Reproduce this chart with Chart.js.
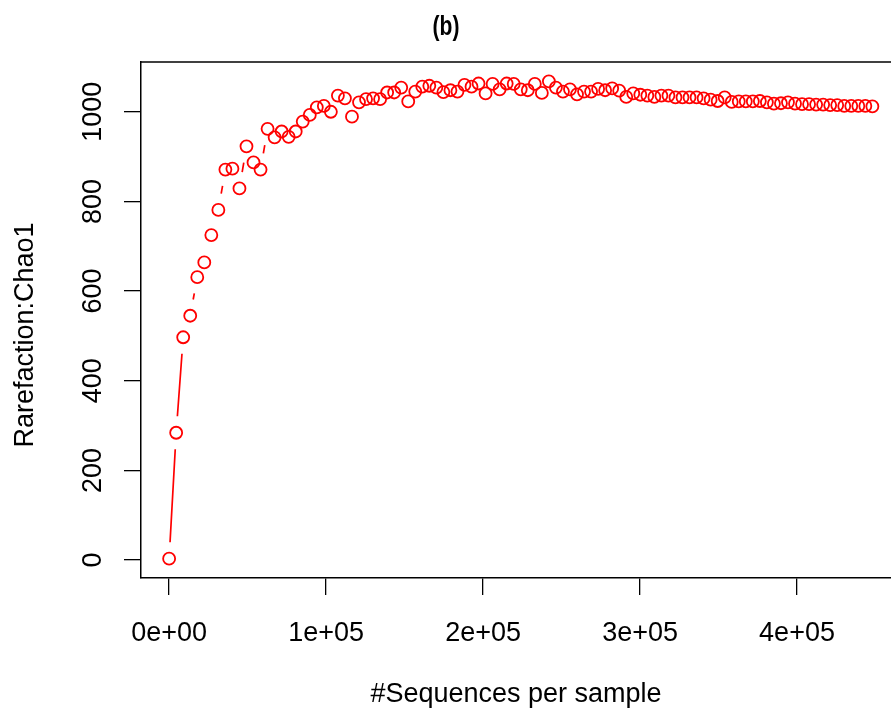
<!DOCTYPE html>
<html>
<head>
<meta charset="utf-8">
<script src="https://cdn.jsdelivr.net/npm/chart.js@4.4.1/dist/chart.umd.min.js"></script>
<style>
  html, body { margin: 0; padding: 0; background: #fff; overflow: hidden; }
</style>
</head>
<body>
<canvas id="rarefactionChart" width="891" height="717"></canvas>
<script>
// sequences per sample at each rarefaction step
const depths = [
  0, 4480, 8960, 13440, 17920, 22400, 26880, 31360, 35840, 40320,
  44800, 49280, 53760, 58240, 62720, 67200, 71680, 76160, 80640, 85120,
  89600, 94080, 98560, 103040, 107520, 112000, 116480, 120960, 125440, 129920,
  134400, 138880, 143360, 147840, 152320, 156800, 161280, 165760, 170240, 174720,
  179200, 183680, 188160, 192640, 197120, 201600, 206080, 210560, 215040, 219520,
  224000, 228480, 232960, 237440, 241920, 246400, 250880, 255360, 259840, 264320,
  268800, 273280, 277760, 282240, 286720, 291200, 295680, 300160, 304640, 309120,
  313600, 318080, 322560, 327040, 331520, 336000, 340480, 344960, 349440, 353920,
  358400, 362880, 367360, 371840, 376320, 380800, 385280, 389760, 394240, 398720,
  403200, 407680, 412160, 416640, 421120, 425600, 430080, 434560, 439040, 443520,
  448000
];

// Chao1 estimate at each step
const chao1 = [
  3, 284, 497, 545, 631, 664, 725, 781, 871, 873,
  829, 923, 887, 871, 962, 943, 956, 944, 956, 978,
  993, 1010, 1013, 1000, 1036, 1030, 989, 1021, 1028, 1030,
  1028, 1043, 1043, 1054, 1023, 1045, 1056, 1058, 1054, 1044,
  1048, 1045, 1060, 1056, 1063, 1041, 1062, 1050, 1063, 1062,
  1050, 1048, 1062, 1042, 1068, 1054, 1045, 1050, 1039, 1045,
  1045, 1051, 1048, 1052, 1047, 1033, 1041, 1038, 1036, 1033,
  1036, 1036, 1032, 1032, 1032, 1032, 1030, 1027, 1024, 1032,
  1022, 1023, 1023, 1023, 1024, 1021, 1018, 1019, 1021, 1018,
  1017, 1017, 1016, 1016, 1015, 1015, 1013, 1013, 1013, 1013,
  1012
];

const xTicks = [0, 100000, 200000, 300000, 400000];
const xTickLabels = ['0e+00', '1e+05', '2e+05', '3e+05', '4e+05'];
const yTicks = [0, 200, 400, 600, 800, 1000];
const yTickLabels = ['0', '200', '400', '600', '800', '1000'];

const FONT = '"Liberation Sans", Arial, Helvetica, sans-serif';

// R-style extras: gapped connecting lines (type = "b"), top of box, rotated y labels, title
const rPlotExtras = {
  id: 'rPlotExtras',
  afterDatasetsDraw(chart) {
    const ctx = chart.ctx;
    const pts = chart.getDatasetMeta(0).data;
    const gap = 16.5;
    ctx.save();
    ctx.strokeStyle = '#ff0000';
    ctx.lineWidth = 1.7;
    ctx.beginPath();
    for (let i = 0; i < pts.length - 1; i++) {
      const a = pts[i], b = pts[i + 1];
      const dx = b.x - a.x, dy = b.y - a.y;
      const d = Math.hypot(dx, dy);
      if (d <= 2 * gap) continue;
      const ux = dx / d, uy = dy / d;
      ctx.moveTo(a.x + ux * gap, a.y + uy * gap);
      ctx.lineTo(b.x - ux * gap, b.y - uy * gap);
    }
    ctx.stroke();
    ctx.restore();
  },
  afterDraw(chart) {
    const ctx = chart.ctx;
    const area = chart.chartArea;
    const yScale = chart.scales.y;
    ctx.save();
    ctx.strokeStyle = '#000';
    ctx.lineWidth = 1.5;
    ctx.beginPath();
    ctx.moveTo(area.left, area.top);
    ctx.lineTo(chart.width, area.top);
    ctx.stroke();

    ctx.fillStyle = '#000';
    ctx.font = '27px ' + FONT;
    ctx.textAlign = 'center';
    ctx.textBaseline = 'alphabetic';
    yTicks.forEach((v, i) => {
      ctx.save();
      ctx.translate(101, yScale.getPixelForValue(v));
      ctx.rotate(-Math.PI / 2);
      ctx.fillText(yTickLabels[i], 0, 0);
      ctx.restore();
    });
    ctx.save();
    ctx.translate(33, 335);
    ctx.rotate(-Math.PI / 2);
    ctx.fillText('Rarefaction:Chao1', 0, 0);
    ctx.restore();

    // condensed bold panel title
    ctx.save();
    ctx.translate(446, 35);
    ctx.scale(0.78, 1);
    ctx.font = 'bold 27px ' + FONT;
    ctx.fillText('(b)', 0, 0);
    ctx.restore();
    ctx.restore();
  }
};

const ctx = document.getElementById('rarefactionChart').getContext('2d');
new Chart(ctx, {
  type: 'scatter',
  data: {
    datasets: [{
      label: 'Chao1',
      data: depths.map((d, i) => ({ x: d, y: chao1[i] })),
      showLine: false,
      pointStyle: 'circle',
      pointRadius: 6,
      pointHoverRadius: 6,
      pointBorderWidth: 1.8,
      pointBorderColor: '#ff0000',
      pointBackgroundColor: 'rgba(0,0,0,0)'
    }]
  },
  options: {
    responsive: false,
    animation: false,
    devicePixelRatio: 1,
    layout: { autoPadding: false, padding: { top: 62, left: 0, right: 0, bottom: 0 } },
    plugins: {
      legend: { display: false },
      tooltip: { enabled: false },
      title: { display: false }
    },
    scales: {
      x: {
        type: 'linear',
        position: 'bottom',
        min: -17920,
        max: 459870,
        afterBuildTicks: s => { s.ticks = xTicks.map(v => ({ value: v })); },
        afterFit: s => { s.height = 139; s.paddingLeft = 0; s.paddingRight = 0; },
        grid: { drawOnChartArea: false, drawTicks: true, tickLength: 17, color: '#000', lineWidth: 1.3 },
        border: { display: true, color: '#000', width: 1.5 },
        ticks: {
          autoSkip: false,
          maxRotation: 0,
          minRotation: 0,
          padding: 22,
          color: '#000',
          font: { family: FONT, size: 27 },
          callback: (value, index) => xTickLabels[index]
        },
        title: {
          display: true,
          text: '#Sequences per sample',
          color: '#000',
          font: { family: FONT, size: 27 },
          padding: { top: 0, bottom: 6 }
        }
      },
      y: {
        type: 'linear',
        min: -40,
        max: 1111,
        afterBuildTicks: s => { s.ticks = yTicks.map(v => ({ value: v })); },
        afterFit: s => { s.width = 141; s.paddingTop = 0; s.paddingBottom = 0; },
        grid: { drawOnChartArea: false, drawTicks: true, tickLength: 17, color: '#000', lineWidth: 1.3 },
        border: { display: true, color: '#000', width: 1.5 },
        ticks: { display: false },
        title: { display: false }
      }
    }
  },
  plugins: [rPlotExtras]
});
</script>
</body>
</html>
